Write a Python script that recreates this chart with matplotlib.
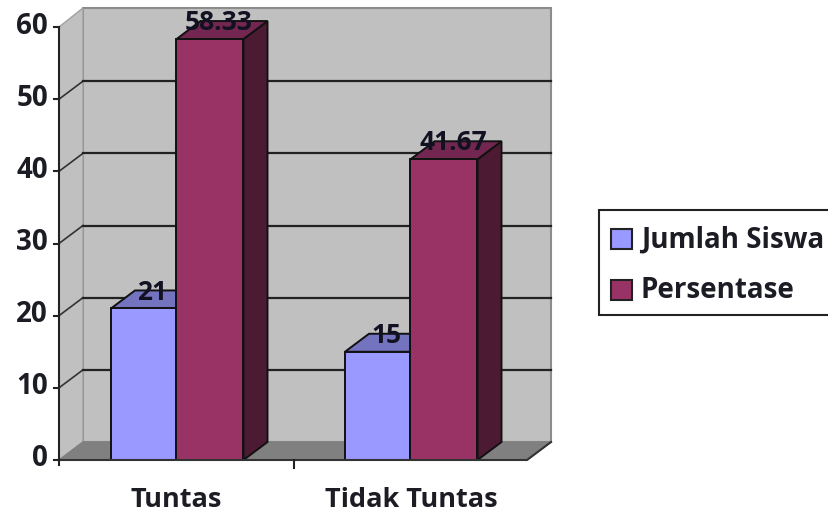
import matplotlib.pyplot as plt
from matplotlib.patches import Polygon, Rectangle

categories = ['Tuntas', 'Tidak Tuntas']
jumlah_siswa = [21, 15]
persentase = [58.33, 41.67]
jumlah_labels = ['21', '15']
persen_labels = ['58.33', '41.67']
y_ticks = [0, 10, 20, 30, 40, 50, 60]

W, H = 829, 514
plt.rcParams['font.family'] = ['Open Sans', 'DejaVu Sans']

fig = plt.figure(figsize=(W / 100, H / 100), dpi=100)
ax = fig.add_axes([0, 0, 1, 1])
ax.set_xlim(0, W)
ax.set_ylim(H, 0)
ax.axis('off')

# front plane in pixels, depth gives the 3d offset
x0, x1 = 59, 527
y0, y60 = 460, 27
dx, dy = 24, -18
unit = (y0 - y60) / 60.0
text_col = '#1c1c24'


def yp(v):
    return y0 - v * unit


# back wall and floor
ax.add_patch(Polygon([(x0 + dx, y0 + dy), (x1 + dx, y0 + dy), (x1 + dx, 8), (x0 + dx, 8)],
                     fc='#c0c0c0', ec='#8c8c8c', lw=1.5, zorder=1))
ax.add_patch(Polygon([(x0, y0), (x0 + dx, y0 + dy), (x0 + dx, 8), (x0, y60)],
                     fc='#c0c0c0', ec='#a0a0a0', lw=1, zorder=1))
ax.add_patch(Polygon([(x0, y0), (x1, y0), (x1 + dx, y0 + dy), (x0 + dx, y0 + dy)],
                     fc='#808080', ec='#808080', lw=1, zorder=1))

# gridlines, none at the top of the wall
for t in y_ticks[1:-1]:
    ax.plot([x0, x0 + dx], [yp(t), yp(t) + dy], color='#333333', lw=1.2, zorder=2)
    ax.plot([x0 + dx, x1 + dx], [yp(t) + dy, yp(t) + dy], color='#222222', lw=1.6, zorder=2)

# axes
ax.plot([x0, x0], [y0 + 5, y60], color='#222222', lw=1.5, zorder=6)
ax.plot([x0, x1, x1 + dx], [y0, y0, y0 + dy], color='#333333', lw=1.5, zorder=6)
for t in y_ticks:
    ax.plot([x0 - 5, x0], [yp(t), yp(t)], color='#222222', lw=1.5, zorder=6)
    ax.text(x0 - 11, yp(t) - 1, str(t), ha='right', va='center', fontsize=20, fontweight='bold', color=text_col)
ax.plot([294, 294], [y0, y0 + 8], color='#222222', lw=1.5, zorder=6)


def bar3d(left, width, value, front, top, side):
    y = yp(value)
    ax.add_patch(Polygon([(left + width, y), (left + width + dx, y + dy), (left + width + dx, y0 + dy), (left + width, y0)],
                         fc=side, ec='#111111', lw=1.4, zorder=4))
    ax.add_patch(Polygon([(left, y), (left + dx, y + dy), (left + width + dx, y + dy), (left + width, y)],
                         fc=top, ec='#111111', lw=1.4, zorder=4))
    ax.add_patch(Rectangle((left, y), width, y0 - y, fc=front, ec='#111111', lw=1.4, zorder=5))


for i, left in enumerate([111, 345]):
    bar3d(left, 65.5, jumlah_siswa[i], '#9999ff', '#7373bf', '#4d4d80')
    bar3d(left + 65.5, 67, persentase[i], '#993366', '#732650', '#4d1a33')
    ax.text(left + 41, yp(jumlah_siswa[i]) - 16, jumlah_labels[i], ha='center', va='center',
            fontsize=19, fontweight='bold', color='#111122', zorder=7)
    ax.text(left + 108, yp(persentase[i]) - 17, persen_labels[i], ha='center', va='center',
            fontsize=19, fontweight='bold', color='#111122', zorder=7)

for c, xc in zip(categories, [176, 411]):
    ax.text(xc, 500, c, ha='center', va='center', fontsize=19.5, fontweight='bold', color=text_col)

# legend
ax.add_patch(Rectangle((599, 210), 240, 105, fc='white', ec='#222222', lw=1.5, zorder=3))
for name, col, yc in zip(['Jumlah Siswa', 'Persentase'], ['#9999ff', '#993366'], [239, 290]):
    ax.add_patch(Rectangle((611, yc - 10), 21, 20, fc=col, ec='#222222', lw=1.5, zorder=4))
    ax.text(641, yc + 1, name, ha='left', va='center', fontsize=20, fontweight='bold', color=text_col, zorder=4)

fig.savefig('out.png', dpi=100)
